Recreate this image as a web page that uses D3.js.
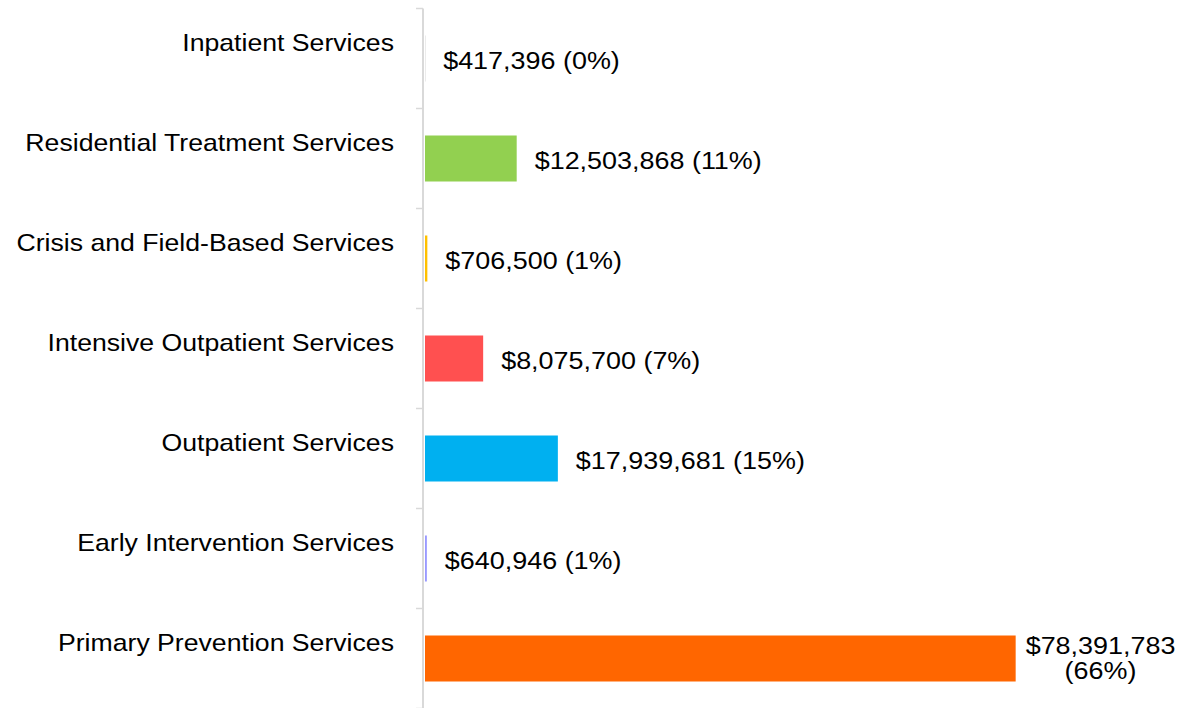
<!DOCTYPE html>
<html>
<head>
<meta charset="utf-8">
<script src="https://cdn.jsdelivr.net/npm/d3@7"></script>
<style>
  html, body { margin: 0; padding: 0; background: #fff; }
  svg { display: block; }
</style>
</head>
<body>
<svg id="chart" width="1188" height="708"></svg>
<script>
const categories = [
  "Inpatient Services",
  "Residential Treatment Services",
  "Crisis and Field-Based Services",
  "Intensive Outpatient Services",
  "Outpatient Services",
  "Early Intervention Services",
  "Primary Prevention Services"
];
const values = [417396, 12503868, 706500, 8075700, 17939681, 640946, 78391783];
const percents = ["0%", "11%", "1%", "7%", "15%", "1%", "66%"];
const colors = ["#7f7f7f", "#92d050", "#ffc000", "#ff5050", "#00b0f0", "#9999ff", "#ff6600"];

const W = 1188, H = 708;
const FONT = "'Liberation Sans', Arial, sans-serif";
const FS = 24.6, STRETCH_CAT = 1.083, STRETCH_VAL = 1.095;
const svg = d3.select("#chart");

const x = d3.scaleLinear().domain([0, 80000000]).range([422, 422 + 80000000 * 7.573e-6]);
const y = d3.scaleBand().domain(categories).range([8.5, 708.5]).paddingInner(0.54).paddingOuter(0.27);
const band = d3.scaleBand().domain(categories).range([8.5, 708.5]);

const fmt = d3.format(",");

function stretch(k) {
  return sel => sel.each(function () {
    const len = this.getComputedTextLength();
    d3.select(this).attr("textLength", len * k).attr("lengthAdjust", "spacingAndGlyphs");
  });
}

// bars
const inset = 3;
svg.append("g").selectAll("rect").data(categories).join("rect")
  .attr("x", x(0) + inset)
  .attr("y", d => y(d))
  .attr("height", y.bandwidth())
  .attr("width", (d, i) => Math.max(0, x(values[i]) - x(0) - inset))
  .attr("fill", (d, i) => colors[i]);

// axis
const axisG = svg.append("g").attr("transform", `translate(${x(0) + 1},0)`);
axisG.append("line").attr("x1", 0).attr("x2", 0).attr("y1", band.range()[0]).attr("y2", band.range()[1])
  .attr("stroke", "#d9d9d9").attr("stroke-width", 2);
const tickYs = categories.map(c => band(c)).concat([band.range()[1]]);
axisG.selectAll("line.tick").data(tickYs).join("line").attr("class", "tick")
  .attr("x1", -7).attr("x2", 0).attr("y1", d => d).attr("y2", d => d)
  .attr("stroke", "#d9d9d9").attr("stroke-width", 1.5);

// category labels
svg.append("g").selectAll("text").data(categories).join("text")
  .attr("x", 394).attr("y", d => band(d) + 42.5)
  .attr("text-anchor", "end")
  .attr("font-family", FONT).attr("font-size", FS).attr("fill", "#000")
  .text(d => d)
  .call(stretch(STRETCH_CAT));

// value labels
const gap = 18;
const labG = svg.append("g");
categories.forEach((c, i) => {
  const label = "$" + fmt(values[i]) + " (" + percents[i] + ")";
  const cy = band(c) + band.bandwidth() / 2;
  const t = labG.append("text")
    .attr("font-family", FONT).attr("font-size", FS).attr("fill", "#000")
    .attr("x", x(values[i]) + gap).attr("y", cy + 10.5)
    .text(label).call(stretch(STRETCH_VAL));
  const bb = t.node().getBBox();
  if (x(values[i]) + gap + bb.width > W - 4) {
    t.remove();
    const lines = ["$" + fmt(values[i]), "(" + percents[i] + ")"];
    const tmp = labG.append("text").attr("font-family", FONT).attr("font-size", FS).text(lines[0]);
    const w0 = tmp.node().getComputedTextLength() * STRETCH_VAL;
    tmp.remove();
    const cx = x(values[i]) + 10 + w0 / 2;
    lines.forEach((ln, k) => {
      labG.append("text")
        .attr("font-family", FONT).attr("font-size", FS).attr("fill", "#000")
        .attr("text-anchor", "middle")
        .attr("x", cx).attr("y", cy - 5 + k * 25)
        .text(ln).call(stretch(STRETCH_VAL));
    });
  }
});
</script>
</body>
</html>
